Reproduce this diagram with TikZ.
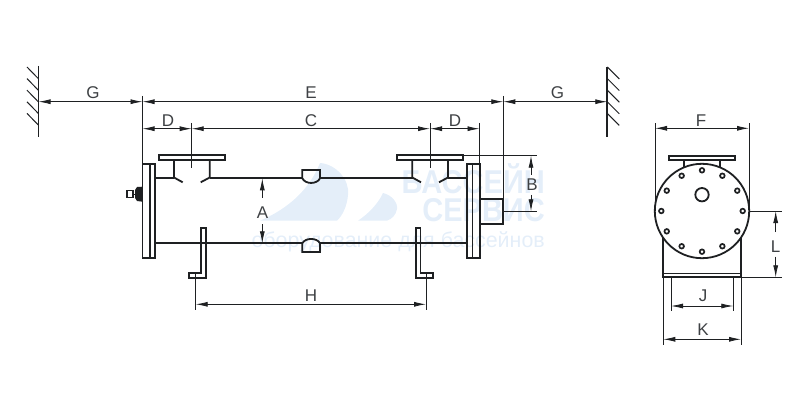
\documentclass[tikz,border=0pt]{standalone}
\usepackage{fontspec}
\setmainfont{Liberation Sans}
\usepackage{xcolor}
\usetikzlibrary{positioning,arrows.meta,calc}
\definecolor{markblue}{HTML}{E4EEF9}
\definecolor{inkdark}{HTML}{1E2022}
\definecolor{textgray}{HTML}{3E4144}

\begin{document}
\begin{tikzpicture}[
    x=1pt, y=-1pt,
    >={Latex[length=12pt,width=5pt]},
    body/.style={draw=inkdark, line width=1.8pt, line join=miter},
    thinline/.style={draw=inkdark, line width=0.8pt},
    dimline/.style={draw=inkdark, line width=0.8pt, <->},
    dimhalf/.style={draw=inkdark, line width=0.8pt, ->},
    hatch/.style={draw=inkdark, line width=1pt},
    dimlabel/.style={font=\fontsize{17}{18}\selectfont, text=textgray, inner sep=0pt},
    marktext/.style={font=\fontsize{33}{36}\selectfont\bfseries, text=markblue, inner sep=0pt, anchor=east, xscale=0.88}
]
\useasboundingbox (0,0) rectangle (800,414);

% === Watermark ===
\fill[markblue] (260,220.7) .. controls (290,208) and (310,188) .. (320,163)
    .. controls (336,164) and (350,180) .. (348,195) .. controls (347,207) and (342,216) .. (337,220.7) -- cycle;
\fill[markblue] (358,220.7) .. controls (368,214) and (378,204) .. (383,193)
    .. controls (392,195) and (398,203) .. (397,209) .. controls (396,215) and (392,219) .. (387,220.7) -- cycle;
\node[marktext] (markA) at (545,178.5) {БАССЕЙН};
\node[marktext] (markB) at (545,210) {СЕРВИС};
\node[font=\fontsize{21.4}{23}\selectfont, text=markblue, inner sep=0pt, anchor=east] (markC) at (545,242) {оборудование для бассейнов};

% === Walls ===
\draw[line width=1.8pt, draw=inkdark] (38.5,66) -- (38.5,137);
\draw[line width=1.8pt, draw=inkdark] (607.3,66.7) -- (607.3,137.3);
\foreach \y in {67,78.6,...,125} {
    \draw[hatch] (27,\y) -- (38.5,\y+11.8);
    \draw[hatch] (607.3,\y) -- (619.3,\y+12);
}

% === Side view: shell ===
\draw[body] (142.5,164.3) rectangle (155,258.3);
\draw[body, line width=1.2pt] (150,164.3) -- (150,258.3);
\draw[body] (466.7,164.3) rectangle (480,258.3);
\draw[body, line width=1.2pt] (472.3,164.3) -- (472.3,258.3);
\draw[body] (480,199) -- (503.3,199) -- (503.3,223.7) -- (480,223.7);

% Pipe lines and bumps
\draw[body] (155,178.3) -- (174,178.3);
\draw[body] (210,178.3) -- (302.3,178.3);
\draw[body] (320,178.3) -- (412.7,178.3);
\draw[body] (447.7,178.3) -- (466.7,178.3);
\draw[body] (155,243.3) -- (302.3,243.3);
\draw[body] (320,243.3) -- (466.7,243.3);
\draw[body] (302.3,178.3) -- (302.3,170) -- (320,170) -- (320,178.3) .. controls (317,184.5) and (305.3,184.5) .. (302.3,178.3);
\draw[body] (302.3,243.3) -- (302.3,252) -- (320,252) -- (320,243.3) .. controls (317,237.5) and (305.3,237.5) .. (302.3,243.3);

% Nozzles
\foreach \cx in {191.7,430} {
    \draw[body] (\cx-33,155.3) rectangle (\cx+33,160);
    \draw[body] (\cx-17.7,160) -- (\cx-17.7,177.5) -- (\cx-9,182.3);
    \draw[body] (\cx+18,160) -- (\cx+18,177.5) -- (\cx+9,182.3);
}

% Support brackets
\draw[body] (201,228.3) -- (206,228.3) -- (206,278) -- (189,278) -- (189,273.3) -- (201,273.3) -- cycle;
\draw[body] (415.7,228.3) -- (420.5,228.3) -- (420.5,273.3) -- (432.7,273.3) -- (432.7,278) -- (415.7,278) -- cycle;

% Vent plug
\draw[body, line width=1.5pt] (127,190.7) rectangle (133,197.3);
\fill[inkdark] (135,190) -- (137,187) -- (142.5,186.7) -- (142.5,201.7) -- (137,201) -- (135,198) -- cycle;
\draw[thinline] (133,194) -- (135,194);

% === Side view: dimensions ===
\coordinate (wallL) at (38.5,101.7);
\coordinate (edgeL) at (142.5,101.7);
\coordinate (edgeR) at (503.3,101.7);
\coordinate (wallR) at (607.3,101.7);
\coordinate (flangeL) at (142.5,128.7);
\coordinate (nozzL) at (191.7,128.7);
\coordinate (nozzR) at (430,128.7);
\coordinate (flangeR) at (479.5,128.7);
\coordinate (footL) at (195.7,304.3);
\coordinate (footR) at (426,304.3);

\draw[thinline] (142.5,96) -- (142.5,164.3);
\draw[thinline] (503.3,96) -- (503.3,199);
\draw[thinline] (191.7,123) -- (191.7,168);
\draw[thinline] (430,123) -- (430,168);
\draw[thinline] (479.5,123) -- (479.5,164.3);
\draw[thinline] (195.7,273.3) -- (195.7,310);
\draw[thinline] (426,273.3) -- (426,310);
\draw[thinline] (462.7,155.7) -- (537,155.7);
\draw[thinline] (503.3,211.3) -- (537,211.3);

\draw[dimline] (wallL) -- (edgeL);
\draw[dimline] (edgeL) -- (edgeR);
\draw[dimline] (edgeR) -- (wallR);
\draw[dimline] (flangeL) -- (nozzL);
\draw[dimline] (nozzL) -- (nozzR);
\draw[dimline] (nozzR) -- (flangeR);
\draw[dimline] (footL) -- (footR);
\draw[dimhalf] (262.3,198) -- (262.3,178.3);
\draw[dimhalf] (262.3,224) -- (262.3,243.3);
\draw[dimhalf] (531,175) -- (531,155.7);
\draw[dimhalf] (531,195) -- (531,211.3);

\node[dimlabel] (labG1) at (93,92.7) {G};
\node[dimlabel] (labE) at (311,92.7) {E};
\node[dimlabel] (labG2) at (557.5,92.7) {G};
\node[dimlabel] (labD1) at (168,120.7) {D};
\node[dimlabel] (labC) at (311,120.7) {C};
\node[dimlabel] (labD2) at (455,120.7) {D};
\node[dimlabel] (labA) at (262.5,213) {A};
\node[dimlabel] (labB) at (532,185) {B};
\node[dimlabel] (labH) at (311,296) {H};

% === End view ===
\coordinate (shell) at (702,211);
\draw[body] (shell) circle (47.2);
\draw[body] (669,155.7) rectangle (735,160.3);
\draw[body] (684.3,160.3) -- (684.3,167.2);
\draw[body] (720,160.3) -- (720,167.2);
\draw[body] (663.3,238) -- (663.3,277.3) -- (740.7,277.3) -- (740.7,238);
\draw[body, line width=1.2pt] (663.3,273.3) -- (740.7,273.3);
\draw[body] (702,194.7) circle (6.7);
\foreach \ang in {0,30,...,330} {
    \draw[body, line width=1.7pt] ([shift={(\ang:40.7)}]shell) circle (2.3);
}

% === End view: dimensions ===
\coordinate (shellL) at (655,128.3);
\coordinate (shellR) at (749,128.3);
\coordinate (legJL) at (671,306);
\coordinate (legJR) at (733.3,306);
\coordinate (legKL) at (663.3,339.3);
\coordinate (legKR) at (741,339.3);

\draw[thinline] (655,123.3) -- (655,211);
\draw[thinline] (749,123.3) -- (749,211);
\draw[thinline] (749,211) -- (781.7,211);
\draw[thinline] (740.7,277.3) -- (781.7,277.3);
\draw[thinline] (671,277.3) -- (671,310.7);
\draw[thinline] (733.3,277.3) -- (733.3,310.7);
\draw[thinline] (663.3,277.3) -- (663.3,345);
\draw[thinline] (741,277.3) -- (741,345);

\draw[dimline] (shellL) -- (shellR);
\draw[dimline] (legJL) -- (legJR);
\draw[dimline] (legKL) -- (legKR);
\draw[dimhalf] (775.7,232) -- (775.7,211);
\draw[dimhalf] (775.7,256.7) -- (775.7,277.3);

\node[dimlabel] (labF) at (701,120.7) {F};
\node[dimlabel] (labJ) at (703,296) {J};
\node[dimlabel] (labK) at (703,330) {K};
\node[dimlabel] (labL) at (775.7,247) {L};
\end{tikzpicture}
\end{document}
